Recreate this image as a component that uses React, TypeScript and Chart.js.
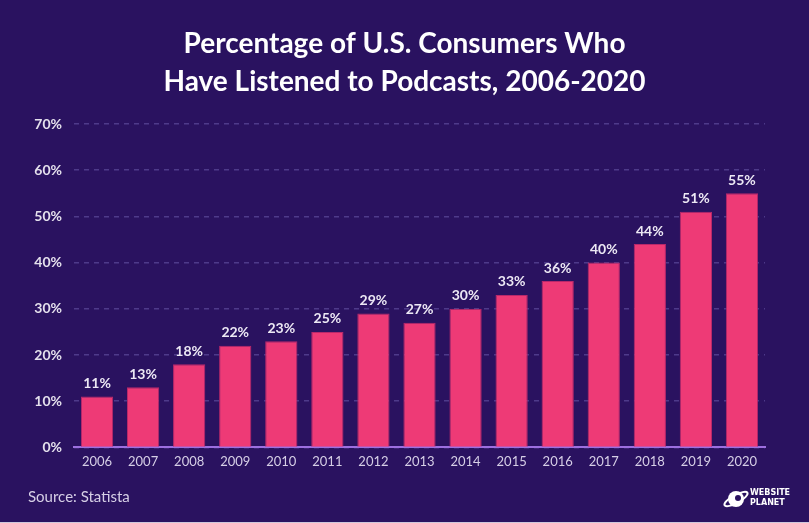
import React, { useEffect, useRef } from "react";
import { Chart, registerables } from "chart.js";

Chart.register(...registerables);

const years = ["2006","2007","2008","2009","2010","2011","2012","2013","2014","2015","2016","2017","2018","2019","2020"];
const percentages = [11, 13, 18, 22, 23, 25, 29, 27, 30, 33, 36, 40, 44, 51, 55];
const titleLines = ["Percentage of U.S. Consumers Who", "Have Listened to Podcasts, 2006-2020"];
const sourceText = "Source: Statista";

const BG = "#2a1260";

const decorPlugin = {
  id: "decor",
  beforeDraw(chart: any) {
    const { ctx, width, height } = chart;
    ctx.save();
    ctx.fillStyle = BG;
    ctx.fillRect(0, 0, width, height);
    ctx.restore();
  },
  afterDraw(chart: any) {
    const { ctx, width, height } = chart;
    ctx.save();
    // title
    ctx.fillStyle = "#ffffff";
    ctx.font = "bold 28px Lato";
    ctx.textAlign = "center";
    ctx.textBaseline = "middle";
    ctx.fillText(titleLines[0], width / 2, 44);
    ctx.fillText(titleLines[1], width / 2, 82);
    // source
    ctx.textAlign = "left";
    ctx.font = "15px Lato";
    ctx.fillStyle = "#d6cfe6";
    ctx.fillText(sourceText, 28, 497);
    // logo
    const cx = 736, cy = 499;
    ctx.fillStyle = "#ffffff";
    ctx.beginPath();
    ctx.arc(cx, cy, 8, 0, Math.PI * 2);
    ctx.fill();
    ctx.strokeStyle = "#ffffff";
    ctx.lineWidth = 2;
    ctx.beginPath();
    ctx.ellipse(cx, cy, 13, 4, -0.5, 0, Math.PI * 2);
    ctx.stroke();
    ctx.fillStyle = BG;
    ctx.beginPath();
    ctx.arc(cx + 2, cy - 1, 3, 0, Math.PI * 2);
    ctx.fill();
    ctx.fillStyle = "#ffffff";
    ctx.font = "bold 8px 'DejaVu Sans'";
    ctx.textAlign = "left";
    ctx.fillText("WEBSITE", 750, 493);
    ctx.fillText("PLANET", 750, 503);
    // bottom border line
    ctx.fillStyle = "#cfc8dc";
    ctx.fillRect(0, height - 1, width, 1);
    // data labels
    const meta = chart.getDatasetMeta(0);
    ctx.fillStyle = "#ece8f4";
    ctx.font = "bold 14px Lato";
    ctx.textAlign = "center";
    ctx.textBaseline = "middle";
    meta.data.forEach((bar: any, i: number) => {
      ctx.fillText(percentages[i] + "%", bar.x, bar.y - 13);
    });
    ctx.restore();
  },
};

export default function App() {
  const ref = useRef<HTMLCanvasElement>(null);
  useEffect(() => {
    document.body.style.margin = "0";
    const chart = new Chart(ref.current!, {
      type: "bar",
      data: {
        labels: years,
        datasets: [
          {
            data: percentages,
            backgroundColor: "#ee3a76",
            borderColor: "#b8286a",
            borderWidth: 1,
            barPercentage: 0.7,
            categoryPercentage: 1,
          },
        ],
      },
      options: {
        animation: false,
        responsive: false,
        devicePixelRatio: 1,
        layout: { padding: { top: 124, left: 20, right: 44, bottom: 46 } },
        plugins: { legend: { display: false }, tooltip: { enabled: false }, title: { display: false } },
        scales: {
          x: {
            grid: { display: false, drawTicks: false },
            border: { display: true, color: "#9d6fe0", width: 2 },
            ticks: { color: "#d6cfe6", font: { family: "Lato", size: 13 }, padding: 7 },
          },
          y: {
            min: 0,
            max: 70,
            afterFit: (s: any) => { s.width = 54; },
            ticks: {
              stepSize: 10,
              color: "#e4e0ec",
              font: { family: "Lato", size: 14, weight: "bold" },
              padding: 12,
              callback: (v: any) => v + "%",
            },
            grid: { color: "#4e3a8a", lineWidth: 1.5, drawTicks: false },
            border: { display: false, dash: [5, 5] },
          },
        },
      },
      plugins: [decorPlugin],
    });
    return () => chart.destroy();
  }, []);
  return (
    <div style={{ position: "fixed", left: 0, top: 0, width: 809, height: 523, background: BG }}>
      <canvas ref={ref} width={809} height={523} style={{ width: 809, height: 523 }} />
    </div>
  );
}
